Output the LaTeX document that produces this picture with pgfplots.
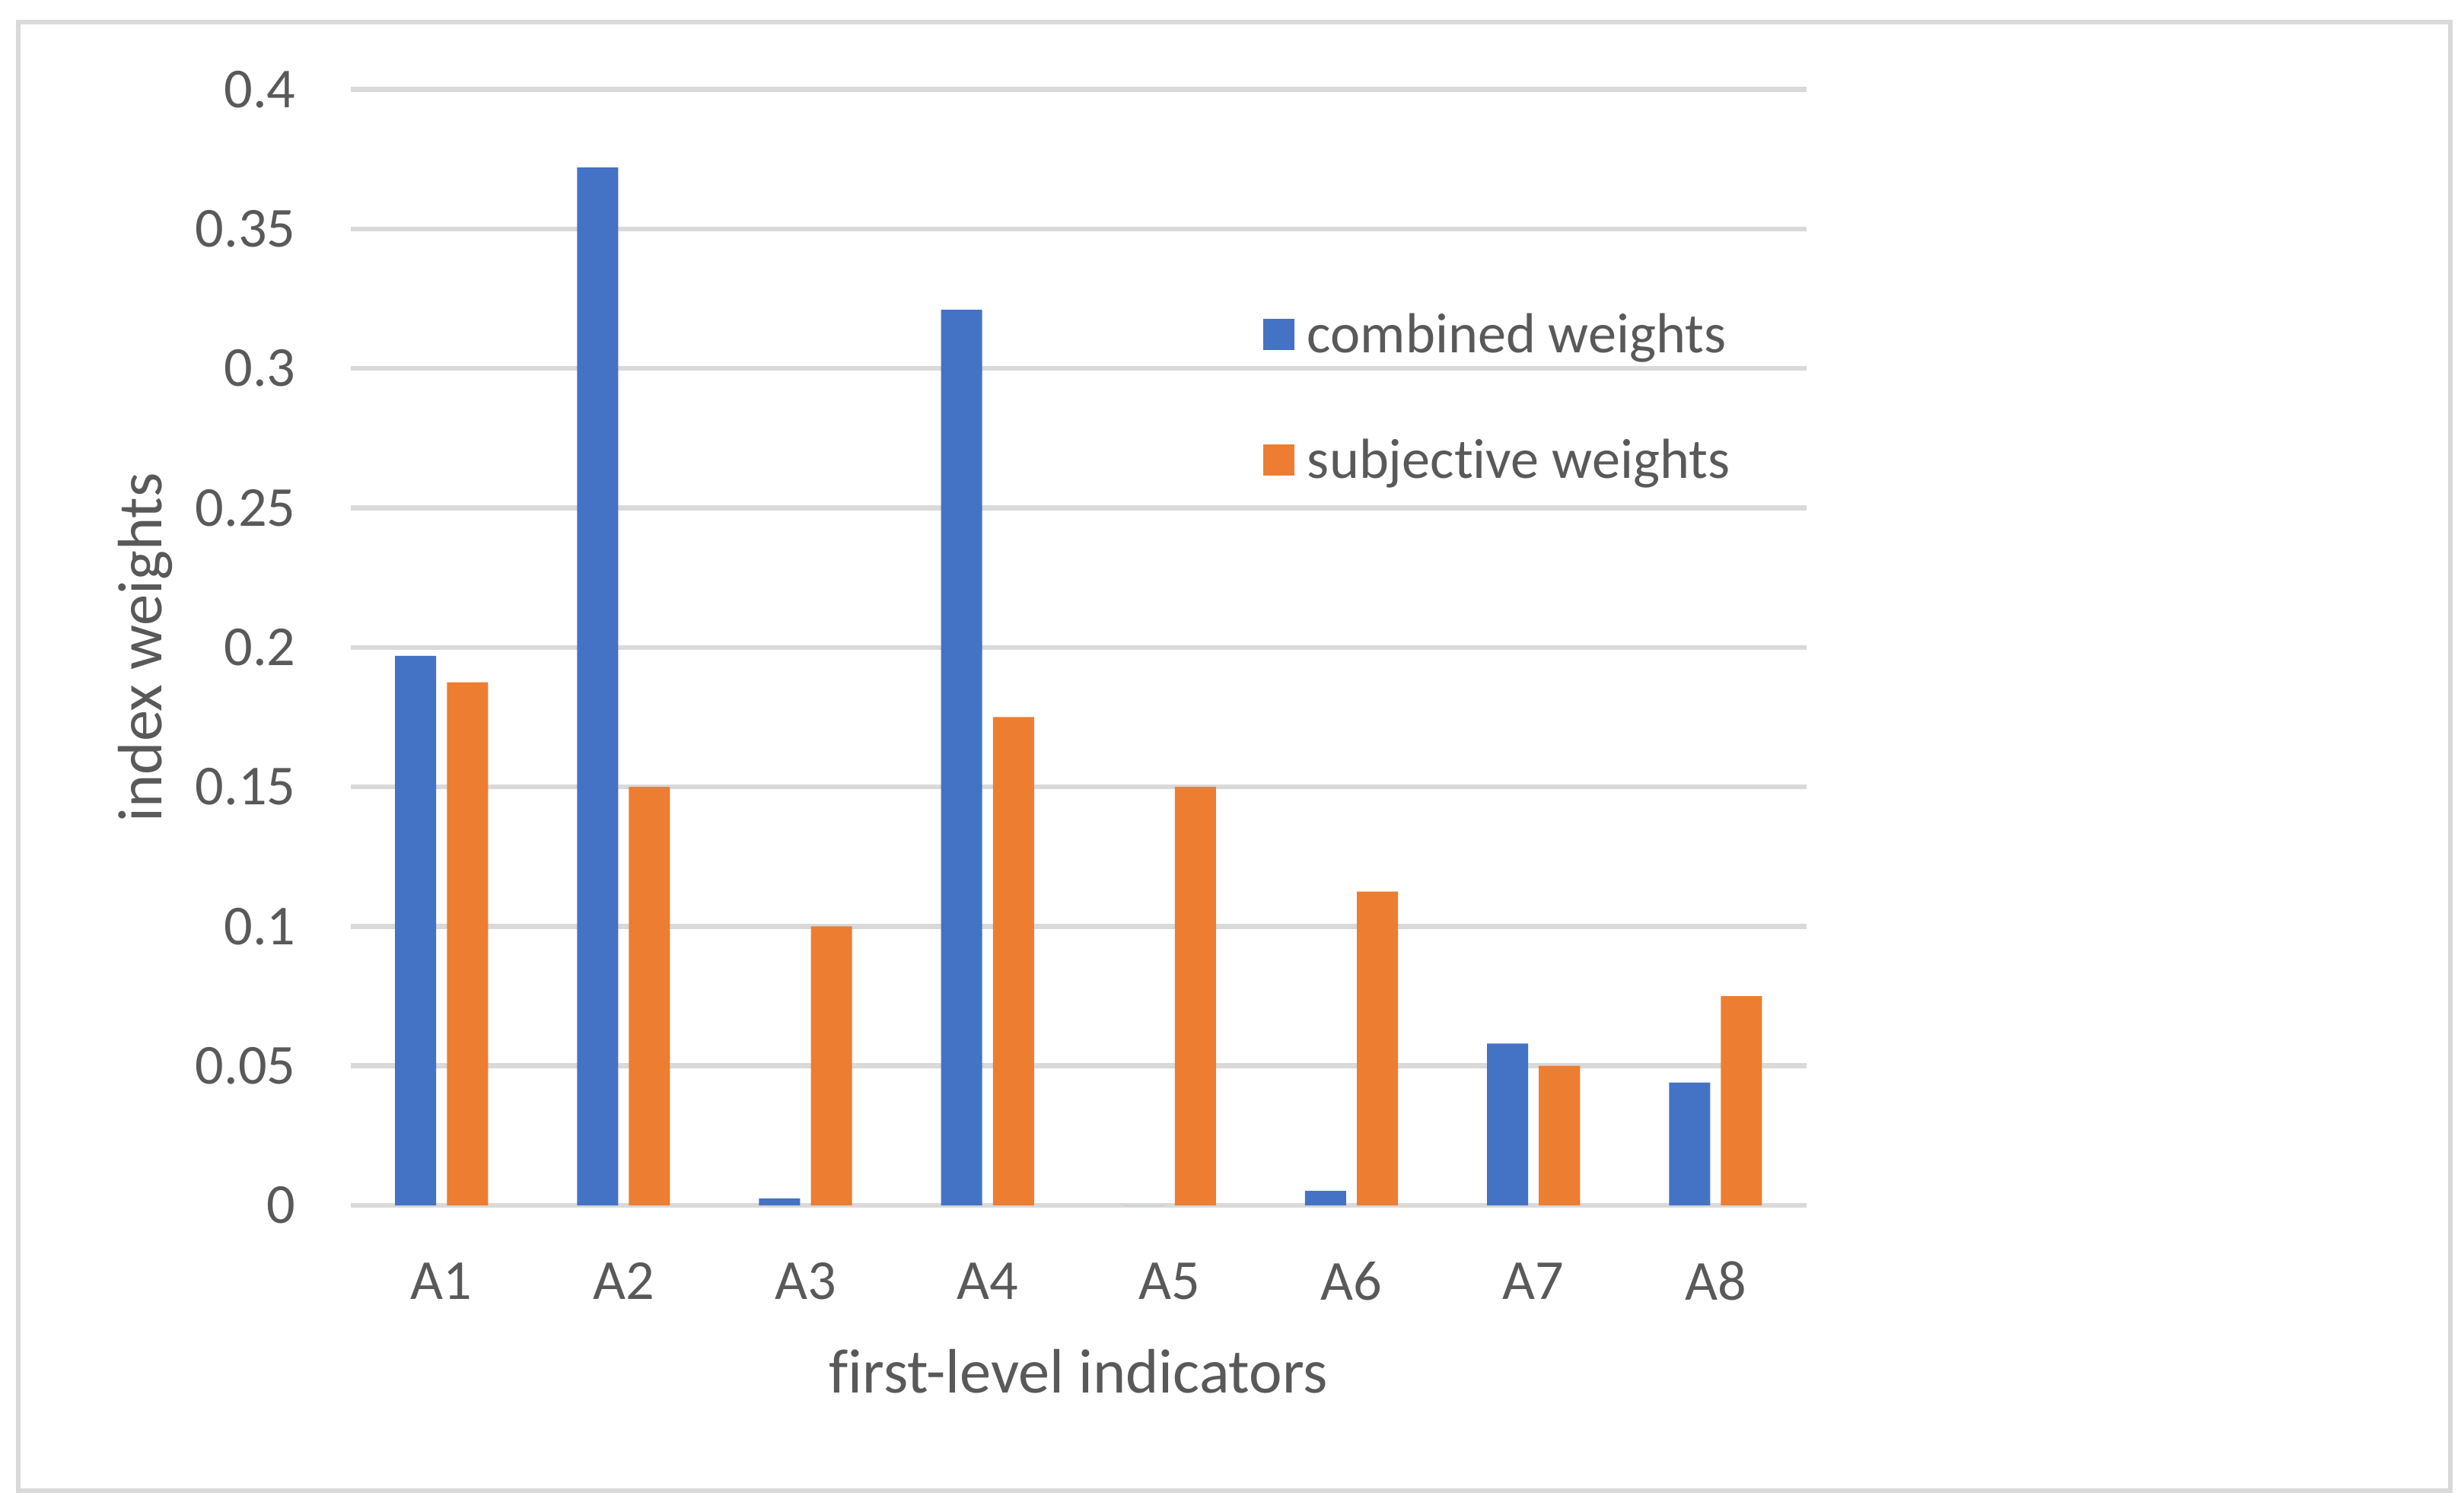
\documentclass[border=0pt]{standalone}
\usepackage{pgfplots}
\pgfplotsset{compat=1.18}
\usepackage{fontspec}
\setmainfont{Carlito}[Ligatures={NoCommon}]
\definecolor{cblue}{HTML}{4472C4}
\definecolor{corange}{HTML}{ED7D31}
\definecolor{gridgray}{HTML}{D9D9D9}
\definecolor{txt}{HTML}{595959}

\begin{document}
\begin{tikzpicture}
\useasboundingbox (0,0) rectangle (470.4pt,-288.9pt);
\draw[gridgray, line width=0.85pt] (3.45pt,-4.2pt) rectangle (468.3pt,-285pt);
\begin{axis}[
  at={(67pt,-230.4pt)}, anchor=south west,
  scale only axis, width=278.3pt, height=213.3pt,
  xmin=0.5, xmax=8.5, ymin=0, ymax=0.4,
  ybar=2.05pt, bar width=7.86pt,
  axis x line*=bottom, axis y line*=left,
  x axis line style={draw=gridgray, line width=0.95pt},
  y axis line style={draw=none},
  ymajorgrids, grid style={draw=gridgray, line width=0.95pt},
  xtick={1,...,8},
  xticklabels={A1,A2,A3,A4,A5,A6,A7,A8},
  major x tick style={draw=none},
  extra x ticks={0.5,1.5,...,8.5},
  extra x tick labels={},
  extra x tick style={tick align=outside, major tick length=3.5pt,
    major tick style={draw=gridgray, line width=0.95pt}},
  ytick={0,0.05,...,0.4},
  yticklabels={0,0.05,0.1,0.15,0.2,0.25,0.3,0.35,0.4},
  major y tick style={draw=none},
  tick label style={font=\fontsize{10.8}{13}\selectfont, text=txt},
  xticklabel style={anchor=center, inner sep=0pt, yshift=-10.2pt},
  yticklabel style={anchor=east, inner sep=0pt, xshift=-10.3pt},
  xlabel={first-level indicators},
  ylabel={index weights},
  label style={font=\fontsize{12}{14}\selectfont, text=txt},
  xlabel style={at={(axis description cs:0.5,0)}, anchor=center, inner sep=0pt, yshift=-31.8pt},
  ylabel style={at={(axis description cs:-0.1412,0.5)}, anchor=center, inner sep=0pt},
  legend cell align=left,
  legend image code/.code={\fill[#1] (0pt,-2.6pt) rectangle (6pt,3.4pt);},
  legend style={draw=none, fill=none, at={(0.6259,0.8004)}, anchor=north west,
    inner sep=0pt, row sep=15pt, column sep=2.5pt,
    nodes={inner sep=0pt, font=\fontsize{10.8}{13}\selectfont, text=txt}},
]
\addplot[fill=cblue, draw=none] coordinates {
  (1,0.197) (2,0.372) (3,0.0025) (4,0.321) (5,0) (6,0.0052) (7,0.058) (8,0.044)};
\addplot[fill=corange, draw=none] coordinates {
  (1,0.1875) (2,0.15) (3,0.1) (4,0.175) (5,0.15) (6,0.1125) (7,0.05) (8,0.075)};
\legend{combined weights, subjective weights}
\end{axis}
\end{tikzpicture}
\end{document}
